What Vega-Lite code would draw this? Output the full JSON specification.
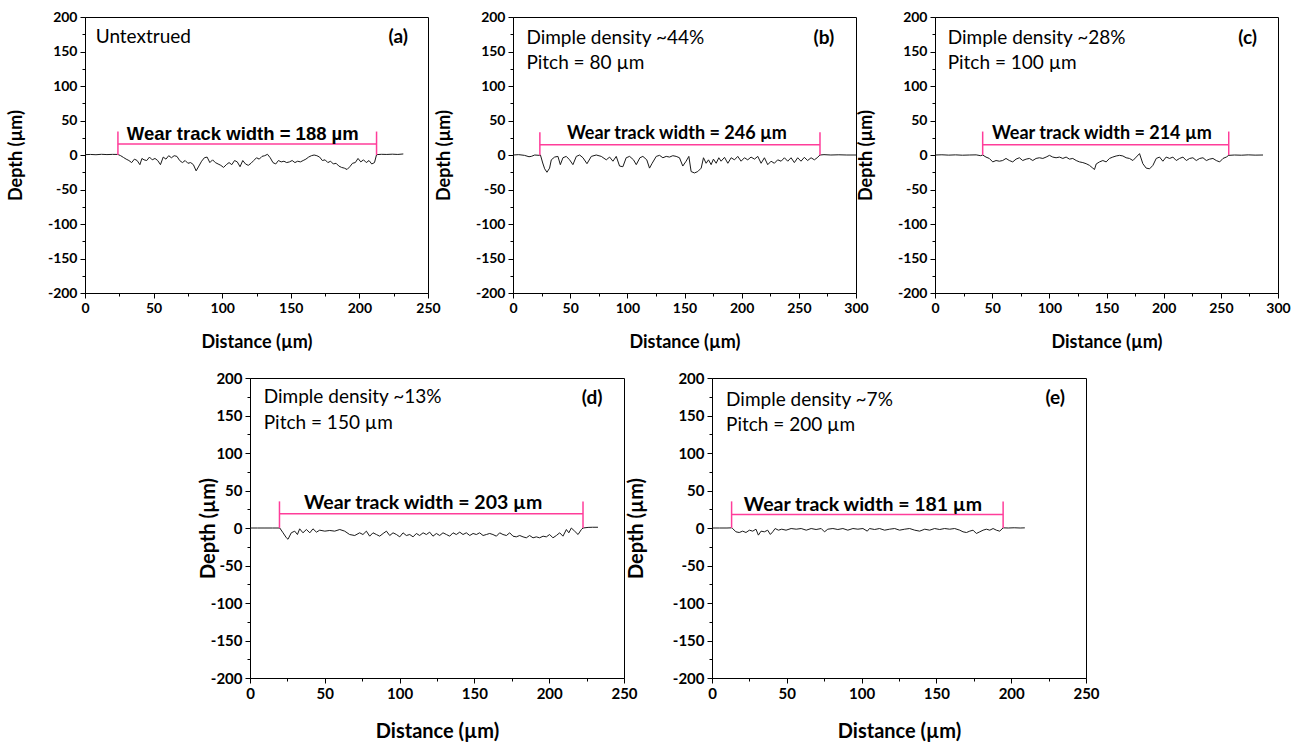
{
  "$schema": "https://vega.github.io/schema/vega-lite/v6.json",
  "padding": {"left": 6, "top": 9, "right": 5, "bottom": 5},
  "background": "white",
  "config": {
    "view": {"stroke": "#000", "strokeWidth": 1},
    "axis": {"domainColor": "#000", "domainWidth": 1, "tickColor": "#000", "tickWidth": 1, "labelColor": "#000", "titleColor": "#000", "labelFont": "Lato", "labelFontWeight": "bold", "labelFontSize": 14, "titleFont": "Lato", "titleFontWeight": "bold", "titleFontSize": 18, "grid": false, "labelPadding": 3, "labelOverlap": false, "labelFlush": false},
    "axisX": {"titlePadding": 18},
    "axisY": {"titlePadding": 22},
    "text": {"font": "Lato", "fontSize": 19, "color": "#000"}
  },
  "datasets": {
    "profile": [
      {"panel":"a","distance":0,"depth":0.5},{"panel":"a","distance":4,"depth":0.8},{"panel":"a","distance":8,"depth":0.4},{"panel":"a","distance":12,"depth":1},{"panel":"a","distance":16,"depth":0.6},{"panel":"a","distance":20,"depth":0.9},{"panel":"a","distance":24,"depth":0.8},{"panel":"a","distance":26,"depth":-1},{"panel":"a","distance":28,"depth":-3.5},{"panel":"a","distance":30,"depth":-6},{"panel":"a","distance":32,"depth":-8},{"panel":"a","distance":34,"depth":-11},{"panel":"a","distance":36,"depth":-6},{"panel":"a","distance":38,"depth":-8},{"panel":"a","distance":40,"depth":-14},{"panel":"a","distance":41.5,"depth":-5},{"panel":"a","distance":43,"depth":-7},{"panel":"a","distance":45,"depth":-8},{"panel":"a","distance":47,"depth":-3},{"panel":"a","distance":49,"depth":-7},{"panel":"a","distance":51,"depth":-5},{"panel":"a","distance":53,"depth":-8},{"panel":"a","distance":55,"depth":-14},{"panel":"a","distance":57,"depth":-3},{"panel":"a","distance":59,"depth":-6},{"panel":"a","distance":61,"depth":-1},{"panel":"a","distance":63,"depth":-4},{"panel":"a","distance":65,"depth":-1},{"panel":"a","distance":67,"depth":-2},{"panel":"a","distance":69,"depth":-8},{"panel":"a","distance":71,"depth":-11},{"panel":"a","distance":73,"depth":-8},{"panel":"a","distance":75,"depth":-12},{"panel":"a","distance":77,"depth":-11},{"panel":"a","distance":79,"depth":-14},{"panel":"a","distance":81,"depth":-23},{"panel":"a","distance":83,"depth":-16},{"panel":"a","distance":85,"depth":-9},{"panel":"a","distance":87,"depth":-4},{"panel":"a","distance":89,"depth":-3},{"panel":"a","distance":91,"depth":-11},{"panel":"a","distance":93,"depth":-7},{"panel":"a","distance":95,"depth":-11},{"panel":"a","distance":97,"depth":-13},{"panel":"a","distance":99,"depth":-15},{"panel":"a","distance":101,"depth":-18},{"panel":"a","distance":103,"depth":-14},{"panel":"a","distance":105,"depth":-11},{"panel":"a","distance":107,"depth":-14},{"panel":"a","distance":109,"depth":-8},{"panel":"a","distance":111,"depth":-10},{"panel":"a","distance":113,"depth":-17},{"panel":"a","distance":115,"depth":-8},{"panel":"a","distance":117,"depth":-13},{"panel":"a","distance":119,"depth":-15},{"panel":"a","distance":121,"depth":-12},{"panel":"a","distance":123,"depth":-8},{"panel":"a","distance":125,"depth":-4},{"panel":"a","distance":127,"depth":-6},{"panel":"a","distance":129,"depth":-2},{"panel":"a","distance":131,"depth":-1},{"panel":"a","distance":133,"depth":1},{"panel":"a","distance":135,"depth":-4},{"panel":"a","distance":137,"depth":-11},{"panel":"a","distance":139,"depth":-13},{"panel":"a","distance":141,"depth":-8},{"panel":"a","distance":143,"depth":-10},{"panel":"a","distance":145,"depth":-9},{"panel":"a","distance":147,"depth":-11},{"panel":"a","distance":149,"depth":-10},{"panel":"a","distance":151,"depth":-8},{"panel":"a","distance":153,"depth":-11},{"panel":"a","distance":155,"depth":-9},{"panel":"a","distance":157,"depth":-10},{"panel":"a","distance":159,"depth":-8},{"panel":"a","distance":161,"depth":-6},{"panel":"a","distance":163,"depth":-3},{"panel":"a","distance":165,"depth":-1},{"panel":"a","distance":167,"depth":0},{"panel":"a","distance":169,"depth":-1},{"panel":"a","distance":171,"depth":-3},{"panel":"a","distance":173,"depth":-8},{"panel":"a","distance":175,"depth":-7},{"panel":"a","distance":177,"depth":-11},{"panel":"a","distance":179,"depth":-9},{"panel":"a","distance":181,"depth":-13},{"panel":"a","distance":183,"depth":-12},{"panel":"a","distance":185,"depth":-16},{"panel":"a","distance":187,"depth":-18},{"panel":"a","distance":189,"depth":-19},{"panel":"a","distance":191,"depth":-21},{"panel":"a","distance":193,"depth":-17},{"panel":"a","distance":195,"depth":-12},{"panel":"a","distance":197,"depth":-11},{"panel":"a","distance":199,"depth":-5},{"panel":"a","distance":201,"depth":-10},{"panel":"a","distance":203,"depth":-7},{"panel":"a","distance":205,"depth":-11},{"panel":"a","distance":207,"depth":-8},{"panel":"a","distance":209,"depth":-13},{"panel":"a","distance":211,"depth":-11},{"panel":"a","distance":212.5,"depth":0.5},{"panel":"a","distance":216,"depth":1},{"panel":"a","distance":220,"depth":0.8},{"panel":"a","distance":224,"depth":1.2},{"panel":"a","distance":228,"depth":0.8},{"panel":"a","distance":232,"depth":1.5},
      {"panel":"b","distance":0,"depth":0},{"panel":"b","distance":5,"depth":0.5},{"panel":"b","distance":10,"depth":-0.5},{"panel":"b","distance":14,"depth":-2.5},{"panel":"b","distance":16,"depth":-2},{"panel":"b","distance":19,"depth":0},{"panel":"b","distance":23,"depth":-0.5},{"panel":"b","distance":24,"depth":0},{"panel":"b","distance":26,"depth":-11.6},{"panel":"b","distance":27.7,"depth":-20},{"panel":"b","distance":29.7,"depth":-25},{"panel":"b","distance":32,"depth":-19},{"panel":"b","distance":33.5,"depth":-7},{"panel":"b","distance":36.4,"depth":-3},{"panel":"b","distance":39.3,"depth":-2},{"panel":"b","distance":41.4,"depth":-14},{"panel":"b","distance":43.7,"depth":-4},{"panel":"b","distance":46.6,"depth":-2},{"panel":"b","distance":49.5,"depth":-7},{"panel":"b","distance":52.4,"depth":-14},{"panel":"b","distance":55.4,"depth":-2},{"panel":"b","distance":58.3,"depth":0},{"panel":"b","distance":61.2,"depth":-4},{"panel":"b","distance":64.7,"depth":-12.6},{"panel":"b","distance":68.5,"depth":-2},{"panel":"b","distance":72.8,"depth":0},{"panel":"b","distance":77.2,"depth":-2},{"panel":"b","distance":81.6,"depth":-7},{"panel":"b","distance":84.5,"depth":-3},{"panel":"b","distance":87.4,"depth":-9},{"panel":"b","distance":90.3,"depth":-2},{"panel":"b","distance":93.2,"depth":-16},{"panel":"b","distance":96.1,"depth":-17},{"panel":"b","distance":99,"depth":-4},{"panel":"b","distance":102,"depth":-2},{"panel":"b","distance":105.4,"depth":-7},{"panel":"b","distance":107.8,"depth":-14},{"panel":"b","distance":111,"depth":-4},{"panel":"b","distance":113.6,"depth":-2},{"panel":"b","distance":117,"depth":-7},{"panel":"b","distance":119.4,"depth":-19},{"panel":"b","distance":121.7,"depth":-12},{"panel":"b","distance":125.3,"depth":-2},{"panel":"b","distance":128.2,"depth":-0.5},{"panel":"b","distance":131.1,"depth":-4},{"panel":"b","distance":134,"depth":-2},{"panel":"b","distance":136.9,"depth":-3},{"panel":"b","distance":139.8,"depth":-1},{"panel":"b","distance":142.7,"depth":-2},{"panel":"b","distance":145.6,"depth":-4},{"panel":"b","distance":148.5,"depth":-16},{"panel":"b","distance":151.4,"depth":-9},{"panel":"b","distance":153.8,"depth":-2},{"panel":"b","distance":155.8,"depth":-24},{"panel":"b","distance":158.7,"depth":-26},{"panel":"b","distance":161.6,"depth":-24},{"panel":"b","distance":164.6,"depth":-19},{"panel":"b","distance":166.6,"depth":-4},{"panel":"b","distance":168.9,"depth":-12},{"panel":"b","distance":171,"depth":-7},{"panel":"b","distance":173.3,"depth":-14},{"panel":"b","distance":175.3,"depth":-6},{"panel":"b","distance":177.7,"depth":-12},{"panel":"b","distance":180,"depth":-4},{"panel":"b","distance":182,"depth":-9},{"panel":"b","distance":185,"depth":-3.4},{"panel":"b","distance":187.9,"depth":-12},{"panel":"b","distance":190.8,"depth":-4},{"panel":"b","distance":193.7,"depth":-7},{"panel":"b","distance":196.6,"depth":-2},{"panel":"b","distance":199.5,"depth":-9},{"panel":"b","distance":202.4,"depth":-4},{"panel":"b","distance":205.3,"depth":-7},{"panel":"b","distance":208.2,"depth":-3},{"panel":"b","distance":211.2,"depth":-6},{"panel":"b","distance":214.1,"depth":-2},{"panel":"b","distance":217,"depth":-12},{"panel":"b","distance":219.9,"depth":-4},{"panel":"b","distance":222.8,"depth":-14},{"panel":"b","distance":225.7,"depth":-9},{"panel":"b","distance":228.6,"depth":-12},{"panel":"b","distance":231.5,"depth":-7},{"panel":"b","distance":234.5,"depth":-9},{"panel":"b","distance":237.4,"depth":-4},{"panel":"b","distance":240.3,"depth":-9},{"panel":"b","distance":243.2,"depth":-4},{"panel":"b","distance":246.1,"depth":-11},{"panel":"b","distance":249,"depth":-4},{"panel":"b","distance":251.9,"depth":-9},{"panel":"b","distance":254.8,"depth":-3.4},{"panel":"b","distance":257.7,"depth":-8},{"panel":"b","distance":260.7,"depth":-4},{"panel":"b","distance":263.6,"depth":-7},{"panel":"b","distance":266,"depth":-4},{"panel":"b","distance":268.5,"depth":0},{"panel":"b","distance":272,"depth":0.5},{"panel":"b","distance":278,"depth":0},{"panel":"b","distance":285,"depth":0.3},{"panel":"b","distance":292,"depth":0},{"panel":"b","distance":300,"depth":0},
      {"panel":"c","distance":0,"depth":0},{"panel":"c","distance":6,"depth":0.3},{"panel":"c","distance":12,"depth":-0.2},{"panel":"c","distance":18,"depth":0.2},{"panel":"c","distance":24,"depth":-0.3},{"panel":"c","distance":30,"depth":0},{"panel":"c","distance":36,"depth":0.2},{"panel":"c","distance":40,"depth":-1},{"panel":"c","distance":41.7,"depth":0},{"panel":"c","distance":44.6,"depth":-3},{"panel":"c","distance":47.5,"depth":-5},{"panel":"c","distance":50.5,"depth":-10},{"panel":"c","distance":53.4,"depth":-8},{"panel":"c","distance":56.3,"depth":-9},{"panel":"c","distance":59.2,"depth":-8},{"panel":"c","distance":62.1,"depth":-5},{"panel":"c","distance":65,"depth":-8},{"panel":"c","distance":68,"depth":-10},{"panel":"c","distance":70.9,"depth":-6},{"panel":"c","distance":73.8,"depth":-4},{"panel":"c","distance":76.7,"depth":-8},{"panel":"c","distance":79.7,"depth":-6},{"panel":"c","distance":82.6,"depth":-5},{"panel":"c","distance":85.5,"depth":-8},{"panel":"c","distance":88.4,"depth":-5},{"panel":"c","distance":91.3,"depth":-4},{"panel":"c","distance":94.3,"depth":-5},{"panel":"c","distance":97.2,"depth":-3},{"panel":"c","distance":100.1,"depth":-0.5},{"panel":"c","distance":103,"depth":-3},{"panel":"c","distance":105.9,"depth":-4},{"panel":"c","distance":108.9,"depth":-3},{"panel":"c","distance":111.8,"depth":-5},{"panel":"c","distance":114.7,"depth":-3},{"panel":"c","distance":117.6,"depth":-6},{"panel":"c","distance":120.5,"depth":-5},{"panel":"c","distance":123.5,"depth":-8},{"panel":"c","distance":126.4,"depth":-10},{"panel":"c","distance":129.3,"depth":-11},{"panel":"c","distance":132.2,"depth":-12.6},{"panel":"c","distance":135.1,"depth":-15},{"panel":"c","distance":138,"depth":-19},{"panel":"c","distance":139.5,"depth":-21},{"panel":"c","distance":141,"depth":-13},{"panel":"c","distance":143.9,"depth":-10},{"panel":"c","distance":146.8,"depth":-8},{"panel":"c","distance":149.7,"depth":-10},{"panel":"c","distance":152.6,"depth":-5},{"panel":"c","distance":155.5,"depth":-3},{"panel":"c","distance":158.5,"depth":-1.4},{"panel":"c","distance":161.4,"depth":-0.5},{"panel":"c","distance":164.3,"depth":-1.4},{"panel":"c","distance":167.2,"depth":-4},{"panel":"c","distance":170.1,"depth":-5},{"panel":"c","distance":173.1,"depth":-8},{"panel":"c","distance":176,"depth":-3},{"panel":"c","distance":178.9,"depth":2},{"panel":"c","distance":181.8,"depth":-12.6},{"panel":"c","distance":184.7,"depth":-19},{"panel":"c","distance":187.7,"depth":-20},{"panel":"c","distance":190.6,"depth":-15},{"panel":"c","distance":193.5,"depth":-5},{"panel":"c","distance":196.4,"depth":-3},{"panel":"c","distance":199.3,"depth":-9},{"panel":"c","distance":202.2,"depth":-3},{"panel":"c","distance":205.2,"depth":-5},{"panel":"c","distance":208.1,"depth":-3},{"panel":"c","distance":211,"depth":-8},{"panel":"c","distance":213.9,"depth":-5},{"panel":"c","distance":216.9,"depth":-3},{"panel":"c","distance":219.8,"depth":-8},{"panel":"c","distance":222.7,"depth":-5},{"panel":"c","distance":225.6,"depth":-4},{"panel":"c","distance":228.5,"depth":-8},{"panel":"c","distance":231.5,"depth":-5},{"panel":"c","distance":234.4,"depth":-4},{"panel":"c","distance":237.3,"depth":-8},{"panel":"c","distance":240.2,"depth":-6},{"panel":"c","distance":243.1,"depth":-5},{"panel":"c","distance":246,"depth":-8},{"panel":"c","distance":249,"depth":-10},{"panel":"c","distance":251.9,"depth":-5},{"panel":"c","distance":254.8,"depth":-3},{"panel":"c","distance":256.9,"depth":-0.5},{"panel":"c","distance":262,"depth":0},{"panel":"c","distance":268,"depth":-0.3},{"panel":"c","distance":274,"depth":0.2},{"panel":"c","distance":280,"depth":-0.2},{"panel":"c","distance":286.9,"depth":0},
      {"panel":"d","distance":0,"depth":0},{"panel":"d","distance":5,"depth":0},{"panel":"d","distance":10,"depth":0},{"panel":"d","distance":15,"depth":0},{"panel":"d","distance":19.9,"depth":0},{"panel":"d","distance":22.1,"depth":-6.4},{"panel":"d","distance":24.3,"depth":-13},{"panel":"d","distance":25.4,"depth":-15},{"panel":"d","distance":27.6,"depth":-6.4},{"panel":"d","distance":29.9,"depth":-4.2},{"panel":"d","distance":31.7,"depth":-8.7},{"panel":"d","distance":33.2,"depth":-1.1},{"panel":"d","distance":35.4,"depth":-6.4},{"panel":"d","distance":37.7,"depth":-2},{"panel":"d","distance":40,"depth":-6.4},{"panel":"d","distance":42.1,"depth":-1.1},{"panel":"d","distance":44.4,"depth":-5.5},{"panel":"d","distance":46.6,"depth":-2.9},{"panel":"d","distance":50,"depth":-4.2},{"panel":"d","distance":53.3,"depth":-3.3},{"panel":"d","distance":56.6,"depth":-4.2},{"panel":"d","distance":60,"depth":-2},{"panel":"d","distance":63.3,"depth":-4.2},{"panel":"d","distance":66.6,"depth":-8.7},{"panel":"d","distance":70,"depth":-10},{"panel":"d","distance":73.3,"depth":-6.4},{"panel":"d","distance":75.5,"depth":-8.7},{"panel":"d","distance":77.8,"depth":-4.2},{"panel":"d","distance":80,"depth":-10.9},{"panel":"d","distance":82.2,"depth":-6.4},{"panel":"d","distance":84.5,"depth":-8.7},{"panel":"d","distance":86.7,"depth":-10.9},{"panel":"d","distance":89,"depth":-7.3},{"panel":"d","distance":91.2,"depth":-4.2},{"panel":"d","distance":93.4,"depth":-10},{"panel":"d","distance":95.6,"depth":-6.4},{"panel":"d","distance":97.9,"depth":-8.7},{"panel":"d","distance":100.1,"depth":-11.8},{"panel":"d","distance":102.3,"depth":-6.4},{"panel":"d","distance":104.5,"depth":-10},{"panel":"d","distance":106.8,"depth":-8.7},{"panel":"d","distance":109,"depth":-11.8},{"panel":"d","distance":111.2,"depth":-7.3},{"panel":"d","distance":113.4,"depth":-10},{"panel":"d","distance":115.7,"depth":-6.4},{"panel":"d","distance":117.9,"depth":-8.7},{"panel":"d","distance":120.1,"depth":-5.5},{"panel":"d","distance":122.3,"depth":-10.9},{"panel":"d","distance":124.6,"depth":-7.3},{"panel":"d","distance":126.8,"depth":-10},{"panel":"d","distance":129,"depth":-6.4},{"panel":"d","distance":131.3,"depth":-8.7},{"panel":"d","distance":133.5,"depth":-10.9},{"panel":"d","distance":135.7,"depth":-6.4},{"panel":"d","distance":137.9,"depth":-8.7},{"panel":"d","distance":140.2,"depth":-5.5},{"panel":"d","distance":142.4,"depth":-8.7},{"panel":"d","distance":144.6,"depth":-6.4},{"panel":"d","distance":146.9,"depth":-10},{"panel":"d","distance":149.1,"depth":-7.3},{"panel":"d","distance":151.3,"depth":-8.7},{"panel":"d","distance":153.5,"depth":-6.4},{"panel":"d","distance":155.8,"depth":-10},{"panel":"d","distance":158,"depth":-8.7},{"panel":"d","distance":160.2,"depth":-7.3},{"panel":"d","distance":162.4,"depth":-8.7},{"panel":"d","distance":164.7,"depth":-10.9},{"panel":"d","distance":166.9,"depth":-6.4},{"panel":"d","distance":169.1,"depth":-8.7},{"panel":"d","distance":171.4,"depth":-10},{"panel":"d","distance":173.6,"depth":-6.4},{"panel":"d","distance":175.8,"depth":-10.9},{"panel":"d","distance":178,"depth":-11.8},{"panel":"d","distance":180.3,"depth":-10},{"panel":"d","distance":182.5,"depth":-11.8},{"panel":"d","distance":184.7,"depth":-13.1},{"panel":"d","distance":186.9,"depth":-10},{"panel":"d","distance":189.2,"depth":-13.1},{"panel":"d","distance":191.4,"depth":-11.8},{"panel":"d","distance":193.6,"depth":-13.1},{"panel":"d","distance":195.9,"depth":-10.9},{"panel":"d","distance":198.1,"depth":-11.8},{"panel":"d","distance":200.3,"depth":-8.7},{"panel":"d","distance":202.5,"depth":-13.1},{"panel":"d","distance":204.8,"depth":-10},{"panel":"d","distance":207,"depth":-6.4},{"panel":"d","distance":209.2,"depth":-10.9},{"panel":"d","distance":211.5,"depth":-2},{"panel":"d","distance":213.1,"depth":-6.4},{"panel":"d","distance":214.8,"depth":0},{"panel":"d","distance":217,"depth":-4.2},{"panel":"d","distance":219.3,"depth":-8.7},{"panel":"d","distance":221.5,"depth":-2},{"panel":"d","distance":222.6,"depth":0},{"panel":"d","distance":226,"depth":0.8},{"panel":"d","distance":229,"depth":1},{"panel":"d","distance":232.6,"depth":1},
      {"panel":"e","distance":0,"depth":0},{"panel":"e","distance":5,"depth":0},{"panel":"e","distance":10,"depth":0},{"panel":"e","distance":13.1,"depth":0.2},{"panel":"e","distance":13.8,"depth":-0.7},{"panel":"e","distance":16,"depth":-5.1},{"panel":"e","distance":18.2,"depth":-6},{"panel":"e","distance":20.5,"depth":-4.2},{"panel":"e","distance":22.7,"depth":-6},{"panel":"e","distance":25,"depth":-2.9},{"panel":"e","distance":27.2,"depth":-4.2},{"panel":"e","distance":29.4,"depth":-1.6},{"panel":"e","distance":31,"depth":-9.5},{"panel":"e","distance":32.8,"depth":-4.2},{"panel":"e","distance":35,"depth":-5.1},{"panel":"e","distance":37.2,"depth":-2.9},{"panel":"e","distance":39,"depth":-8.6},{"panel":"e","distance":40.6,"depth":-5.1},{"panel":"e","distance":42.2,"depth":-0.7},{"panel":"e","distance":44.4,"depth":-2.9},{"panel":"e","distance":46.6,"depth":-1.6},{"panel":"e","distance":49.5,"depth":-2.9},{"panel":"e","distance":52.9,"depth":-0.7},{"panel":"e","distance":56.3,"depth":-1.6},{"panel":"e","distance":59.6,"depth":-0.7},{"panel":"e","distance":63,"depth":-2.9},{"panel":"e","distance":66.3,"depth":-0.7},{"panel":"e","distance":69.6,"depth":-2},{"panel":"e","distance":73,"depth":-0.7},{"panel":"e","distance":75.2,"depth":-5.1},{"panel":"e","distance":77.4,"depth":-1.6},{"panel":"e","distance":80.8,"depth":-0.7},{"panel":"e","distance":84.1,"depth":-2},{"panel":"e","distance":87.5,"depth":-0.7},{"panel":"e","distance":90.8,"depth":-2.9},{"panel":"e","distance":94.2,"depth":-0.7},{"panel":"e","distance":97.5,"depth":-1.6},{"panel":"e","distance":100.9,"depth":-0.7},{"panel":"e","distance":103.8,"depth":-4.2},{"panel":"e","distance":105.3,"depth":-0.7},{"panel":"e","distance":108.7,"depth":-2},{"panel":"e","distance":112,"depth":-0.7},{"panel":"e","distance":115.4,"depth":-2.9},{"panel":"e","distance":118.7,"depth":-1.6},{"panel":"e","distance":122.1,"depth":-0.7},{"panel":"e","distance":125.4,"depth":-2.9},{"panel":"e","distance":128.8,"depth":-1.6},{"panel":"e","distance":132.1,"depth":-0.7},{"panel":"e","distance":135.5,"depth":-2.9},{"panel":"e","distance":138.8,"depth":-4.2},{"panel":"e","distance":142.2,"depth":-1.6},{"panel":"e","distance":145.5,"depth":-2.9},{"panel":"e","distance":148.8,"depth":-0.7},{"panel":"e","distance":152.2,"depth":-2},{"panel":"e","distance":155.5,"depth":-0.7},{"panel":"e","distance":158.9,"depth":-1.6},{"panel":"e","distance":162.2,"depth":-0.7},{"panel":"e","distance":165.6,"depth":-2.9},{"panel":"e","distance":167.8,"depth":-5.1},{"panel":"e","distance":170.1,"depth":-6},{"panel":"e","distance":172.3,"depth":-4.2},{"panel":"e","distance":174.5,"depth":-2.9},{"panel":"e","distance":176.7,"depth":-7.3},{"panel":"e","distance":179,"depth":-5.1},{"panel":"e","distance":181.2,"depth":-2.9},{"panel":"e","distance":183.4,"depth":-1.6},{"panel":"e","distance":185.7,"depth":-2.9},{"panel":"e","distance":187.9,"depth":-0.7},{"panel":"e","distance":190.1,"depth":-2.9},{"panel":"e","distance":192.3,"depth":-4.2},{"panel":"e","distance":194.6,"depth":0.2},{"panel":"e","distance":198,"depth":0},{"panel":"e","distance":202,"depth":0.3},{"panel":"e","distance":206,"depth":0},{"panel":"e","distance":209.1,"depth":0.2}
    ],
    "bracket": [
      {"panel":"a","start":24,"end":212.5,"level":16,"low":0,"high":34,"label_x":115,"label_y":30,"label":"Wear track width = 188 µm"},
      {"panel":"b","start":23.5,"end":268.5,"level":15,"low":-0.5,"high":33,"label_x":143.4,"label_y":30,"label":"Wear track width = 246 µm"},
      {"panel":"c","start":41.7,"end":256.9,"level":15,"low":0,"high":34,"label_x":146,"label_y":30,"label":"Wear track width = 214 µm"},
      {"panel":"d","start":19.7,"end":222.6,"level":19,"low":0,"high":35.5,"label_x":115.7,"label_y":33,"label":"Wear track width = 203 µm"},
      {"panel":"e","start":13.1,"end":194.6,"level":18,"low":0,"high":35.5,"label_x":100.9,"label_y":31.3,"label":"Wear track width = 181 µm"}
    ],
    "notes": [
      {"panel":"a","kind":"note","x":7.8,"y":171,"text":"Untextrued"},
      {"panel":"a","kind":"tag","x":235.4,"y":171,"text":"(a)"},
      {"panel":"b","kind":"note","x":11.7,"y":170,"text":"Dimple density ~44%"},
      {"panel":"b","kind":"note","x":11.7,"y":133,"text":"Pitch = 80 µm"},
      {"panel":"b","kind":"tag","x":281,"y":170,"text":"(b)"},
      {"panel":"c","kind":"note","x":11.1,"y":170,"text":"Dimple density ~28%"},
      {"panel":"c","kind":"note","x":11.1,"y":133,"text":"Pitch = 100 µm"},
      {"panel":"c","kind":"tag","x":281.6,"y":170,"text":"(c)"},
      {"panel":"d","kind":"note","x":9.2,"y":174.7,"text":"Dimple density ~13%"},
      {"panel":"d","kind":"note","x":9.2,"y":140,"text":"Pitch = 150 µm"},
      {"panel":"d","kind":"tag","x":235.6,"y":173,"text":"(d)"},
      {"panel":"e","kind":"note","x":9.4,"y":171,"text":"Dimple density ~7%"},
      {"panel":"e","kind":"note","x":9.4,"y":137,"text":"Pitch = 200 µm"},
      {"panel":"e","kind":"tag","x":236,"y":174,"text":"(e)"}
    ]
  },
  "bounds": "flush",
  "spacing": 361,
  "vconcat": [
    {
      "bounds": "flush",
      "spacing": 85,
      "hconcat": [
        {
          "width": 343, "height": 276,
          "layer": [
            {"data": {"name": "profile"}, "transform": [{"filter": "datum.panel === 'a'"}],
             "mark": {"type": "line", "color": "#1a1a1a", "strokeWidth": 1},
             "encoding": {
               "x": {"field": "distance", "type": "quantitative", "title": "Distance (µm)", "scale": {"domain": [0, 250], "nice": false, "zero": false},
                     "axis": {"values": [0,25,50,75,100,125,150,175,200,225,250], "tickCount": 40, "labelOverlap": false, "labelExpr": "datum.value % 50 === 0 ? '' + datum.value : ''", "labelFontSize": {"condition": {"test": "datum.value % 50 !== 0", "value": 0}, "value": 14}, "tickSize": {"condition": {"test": "datum.value % 50 === 0", "value": 5}, "value": 3}}},
               "y": {"field": "depth", "type": "quantitative", "title": "Depth (µm)", "scale": {"domain": [-200, 200], "nice": false},
                     "axis": {"values": [-200,-175,-150,-125,-100,-75,-50,-25,0,25,50,75,100,125,150,175,200], "tickCount": 40, "labelOverlap": false, "labelExpr": "datum.value % 50 === 0 ? '' + datum.value : ''", "labelFontSize": {"condition": {"test": "datum.value % 50 !== 0", "value": 0}, "value": 14}, "tickSize": {"condition": {"test": "datum.value % 50 === 0", "value": 5}, "value": 3}}}
             }},
            {"data": {"name": "bracket"}, "transform": [{"filter": "datum.panel === 'a'"}],
             "mark": {"type": "rule", "color": "#ff3d9a", "strokeWidth": 1.5},
             "encoding": {"x": {"field": "start", "type": "quantitative"}, "x2": {"field": "end"}, "y": {"field": "level", "type": "quantitative"}}},
            {"data": {"name": "bracket"}, "transform": [{"filter": "datum.panel === 'a'"}],
             "mark": {"type": "rule", "color": "#ff3d9a", "strokeWidth": 1.5},
             "encoding": {"x": {"field": "start", "type": "quantitative"}, "y": {"field": "low", "type": "quantitative"}, "y2": {"field": "high"}}},
            {"data": {"name": "bracket"}, "transform": [{"filter": "datum.panel === 'a'"}],
             "mark": {"type": "rule", "color": "#ff3d9a", "strokeWidth": 1.5},
             "encoding": {"x": {"field": "end", "type": "quantitative"}, "y": {"field": "low", "type": "quantitative"}, "y2": {"field": "high"}}},
            {"data": {"name": "bracket"}, "transform": [{"filter": "datum.panel === 'a'"}],
             "mark": {"type": "text", "font": "Liberation Sans", "fontWeight": "bold", "fontSize": 18.5, "align": "center", "baseline": "middle"},
             "encoding": {"x": {"field": "label_x", "type": "quantitative"}, "y": {"field": "label_y", "type": "quantitative"}, "text": {"field": "label"}}},
            {"data": {"name": "notes"}, "transform": [{"filter": "datum.panel === 'a' && datum.kind === 'note'"}],
             "mark": {"type": "text", "align": "left", "baseline": "middle"},
             "encoding": {"x": {"field": "x", "type": "quantitative"}, "y": {"field": "y", "type": "quantitative"}, "text": {"field": "text"}}},
            {"data": {"name": "notes"}, "transform": [{"filter": "datum.panel === 'a' && datum.kind === 'tag'"}],
             "mark": {"type": "text", "align": "right", "baseline": "middle", "fontWeight": "bold"},
             "encoding": {"x": {"field": "x", "type": "quantitative"}, "y": {"field": "y", "type": "quantitative"}, "text": {"field": "text"}}}
          ]
        },
        {
          "bounds": "flush",
          "spacing": 79,
          "hconcat": [
            {
              "width": 343, "height": 276,
              "layer": [
                {"data": {"name": "profile"}, "transform": [{"filter": "datum.panel === 'b'"}],
                 "mark": {"type": "line", "color": "#1a1a1a", "strokeWidth": 1},
                 "encoding": {
                   "x": {"field": "distance", "type": "quantitative", "title": "Distance (µm)", "scale": {"domain": [0, 300], "nice": false, "zero": false},
                         "axis": {"values": [0,25,50,75,100,125,150,175,200,225,250,275,300], "tickCount": 40, "labelOverlap": false, "labelExpr": "datum.value % 50 === 0 ? '' + datum.value : ''", "labelFontSize": {"condition": {"test": "datum.value % 50 !== 0", "value": 0}, "value": 14}, "tickSize": {"condition": {"test": "datum.value % 50 === 0", "value": 5}, "value": 3}}},
                   "y": {"field": "depth", "type": "quantitative", "title": "Depth (µm)", "scale": {"domain": [-200, 200], "nice": false},
                         "axis": {"values": [-200,-175,-150,-125,-100,-75,-50,-25,0,25,50,75,100,125,150,175,200], "tickCount": 40, "labelOverlap": false, "labelExpr": "datum.value % 50 === 0 ? '' + datum.value : ''", "labelFontSize": {"condition": {"test": "datum.value % 50 !== 0", "value": 0}, "value": 14}, "tickSize": {"condition": {"test": "datum.value % 50 === 0", "value": 5}, "value": 3}}}
                 }},
                {"data": {"name": "bracket"}, "transform": [{"filter": "datum.panel === 'b'"}],
                 "mark": {"type": "rule", "color": "#ff3d9a", "strokeWidth": 1.5},
                 "encoding": {"x": {"field": "start", "type": "quantitative"}, "x2": {"field": "end"}, "y": {"field": "level", "type": "quantitative"}}},
                {"data": {"name": "bracket"}, "transform": [{"filter": "datum.panel === 'b'"}],
                 "mark": {"type": "rule", "color": "#ff3d9a", "strokeWidth": 1.5},
                 "encoding": {"x": {"field": "start", "type": "quantitative"}, "y": {"field": "low", "type": "quantitative"}, "y2": {"field": "high"}}},
                {"data": {"name": "bracket"}, "transform": [{"filter": "datum.panel === 'b'"}],
                 "mark": {"type": "rule", "color": "#ff3d9a", "strokeWidth": 1.5},
                 "encoding": {"x": {"field": "end", "type": "quantitative"}, "y": {"field": "low", "type": "quantitative"}, "y2": {"field": "high"}}},
                {"data": {"name": "bracket"}, "transform": [{"filter": "datum.panel === 'b'"}],
                 "mark": {"type": "text", "fontWeight": "bold", "fontSize": 18, "align": "center", "baseline": "middle"},
                 "encoding": {"x": {"field": "label_x", "type": "quantitative"}, "y": {"field": "label_y", "type": "quantitative"}, "text": {"field": "label"}}},
                {"data": {"name": "notes"}, "transform": [{"filter": "datum.panel === 'b' && datum.kind === 'note'"}],
                 "mark": {"type": "text", "align": "left", "baseline": "middle"},
                 "encoding": {"x": {"field": "x", "type": "quantitative"}, "y": {"field": "y", "type": "quantitative"}, "text": {"field": "text"}}},
                {"data": {"name": "notes"}, "transform": [{"filter": "datum.panel === 'b' && datum.kind === 'tag'"}],
                 "mark": {"type": "text", "align": "right", "baseline": "middle", "fontWeight": "bold"},
                 "encoding": {"x": {"field": "x", "type": "quantitative"}, "y": {"field": "y", "type": "quantitative"}, "text": {"field": "text"}}}
              ]
            },
            {
              "width": 343, "height": 276,
              "layer": [
                {"data": {"name": "profile"}, "transform": [{"filter": "datum.panel === 'c'"}],
                 "mark": {"type": "line", "color": "#1a1a1a", "strokeWidth": 1},
                 "encoding": {
                   "x": {"field": "distance", "type": "quantitative", "title": "Distance (µm)", "scale": {"domain": [0, 300], "nice": false, "zero": false},
                         "axis": {"values": [0,25,50,75,100,125,150,175,200,225,250,275,300], "tickCount": 40, "labelOverlap": false, "labelExpr": "datum.value % 50 === 0 ? '' + datum.value : ''", "labelFontSize": {"condition": {"test": "datum.value % 50 !== 0", "value": 0}, "value": 14}, "tickSize": {"condition": {"test": "datum.value % 50 === 0", "value": 5}, "value": 3}}},
                   "y": {"field": "depth", "type": "quantitative", "title": "Depth (µm)", "scale": {"domain": [-200, 200], "nice": false},
                         "axis": {"values": [-200,-175,-150,-125,-100,-75,-50,-25,0,25,50,75,100,125,150,175,200], "tickCount": 40, "labelOverlap": false, "labelExpr": "datum.value % 50 === 0 ? '' + datum.value : ''", "labelFontSize": {"condition": {"test": "datum.value % 50 !== 0", "value": 0}, "value": 14}, "tickSize": {"condition": {"test": "datum.value % 50 === 0", "value": 5}, "value": 3}}}
                 }},
                {"data": {"name": "bracket"}, "transform": [{"filter": "datum.panel === 'c'"}],
                 "mark": {"type": "rule", "color": "#ff3d9a", "strokeWidth": 1.5},
                 "encoding": {"x": {"field": "start", "type": "quantitative"}, "x2": {"field": "end"}, "y": {"field": "level", "type": "quantitative"}}},
                {"data": {"name": "bracket"}, "transform": [{"filter": "datum.panel === 'c'"}],
                 "mark": {"type": "rule", "color": "#ff3d9a", "strokeWidth": 1.5},
                 "encoding": {"x": {"field": "start", "type": "quantitative"}, "y": {"field": "low", "type": "quantitative"}, "y2": {"field": "high"}}},
                {"data": {"name": "bracket"}, "transform": [{"filter": "datum.panel === 'c'"}],
                 "mark": {"type": "rule", "color": "#ff3d9a", "strokeWidth": 1.5},
                 "encoding": {"x": {"field": "end", "type": "quantitative"}, "y": {"field": "low", "type": "quantitative"}, "y2": {"field": "high"}}},
                {"data": {"name": "bracket"}, "transform": [{"filter": "datum.panel === 'c'"}],
                 "mark": {"type": "text", "fontWeight": "bold", "fontSize": 18, "align": "center", "baseline": "middle"},
                 "encoding": {"x": {"field": "label_x", "type": "quantitative"}, "y": {"field": "label_y", "type": "quantitative"}, "text": {"field": "label"}}},
                {"data": {"name": "notes"}, "transform": [{"filter": "datum.panel === 'c' && datum.kind === 'note'"}],
                 "mark": {"type": "text", "align": "left", "baseline": "middle"},
                 "encoding": {"x": {"field": "x", "type": "quantitative"}, "y": {"field": "y", "type": "quantitative"}, "text": {"field": "text"}}},
                {"data": {"name": "notes"}, "transform": [{"filter": "datum.panel === 'c' && datum.kind === 'tag'"}],
                 "mark": {"type": "text", "align": "right", "baseline": "middle", "fontWeight": "bold"},
                 "encoding": {"x": {"field": "x", "type": "quantitative"}, "y": {"field": "y", "type": "quantitative"}, "text": {"field": "text"}}}
              ]
            }
          ]
        }
      ]
    },
    {
      "bounds": "flush",
      "spacing": 88,
      "hconcat": [
        {
          "width": 77, "height": 300,
          "data": {"values": []},
          "mark": {"type": "point", "opacity": 0},
          "view": {"stroke": null}
        },
        {
          "width": 374, "height": 300,
          "layer": [
            {"data": {"name": "profile"}, "transform": [{"filter": "datum.panel === 'd'"}],
             "mark": {"type": "line", "color": "#1a1a1a", "strokeWidth": 1},
             "encoding": {
               "x": {"field": "distance", "type": "quantitative", "title": "Distance (µm)", "scale": {"domain": [0, 250], "nice": false, "zero": false},
                     "axis": {"values": [0,25,50,75,100,125,150,175,200,225,250], "tickCount": 40, "labelOverlap": false, "labelExpr": "datum.value % 50 === 0 ? '' + datum.value : ''", "labelFontSize": {"condition": {"test": "datum.value % 50 !== 0", "value": 0}, "value": 15}, "tickSize": {"condition": {"test": "datum.value % 50 === 0", "value": 5}, "value": 3}, "titleFontSize": 20, "titlePadding": 20}},
               "y": {"field": "depth", "type": "quantitative", "title": "Depth (µm)", "scale": {"domain": [-200, 200], "nice": false},
                     "axis": {"values": [-200,-175,-150,-125,-100,-75,-50,-25,0,25,50,75,100,125,150,175,200], "tickCount": 40, "labelOverlap": false, "labelExpr": "datum.value % 50 === 0 ? '' + datum.value : ''", "labelFontSize": {"condition": {"test": "datum.value % 50 !== 0", "value": 0}, "value": 15}, "tickSize": {"condition": {"test": "datum.value % 50 === 0", "value": 5}, "value": 3}, "titleFontSize": 20, "titleX": -32}}
             }},
            {"data": {"name": "bracket"}, "transform": [{"filter": "datum.panel === 'd'"}],
             "mark": {"type": "rule", "color": "#ff3d9a", "strokeWidth": 1.5},
             "encoding": {"x": {"field": "start", "type": "quantitative"}, "x2": {"field": "end"}, "y": {"field": "level", "type": "quantitative"}}},
            {"data": {"name": "bracket"}, "transform": [{"filter": "datum.panel === 'd'"}],
             "mark": {"type": "rule", "color": "#ff3d9a", "strokeWidth": 1.5},
             "encoding": {"x": {"field": "start", "type": "quantitative"}, "y": {"field": "low", "type": "quantitative"}, "y2": {"field": "high"}}},
            {"data": {"name": "bracket"}, "transform": [{"filter": "datum.panel === 'd'"}],
             "mark": {"type": "rule", "color": "#ff3d9a", "strokeWidth": 1.5},
             "encoding": {"x": {"field": "end", "type": "quantitative"}, "y": {"field": "low", "type": "quantitative"}, "y2": {"field": "high"}}},
            {"data": {"name": "bracket"}, "transform": [{"filter": "datum.panel === 'd'"}],
             "mark": {"type": "text", "fontWeight": "bold", "fontSize": 19.5, "align": "center", "baseline": "middle"},
             "encoding": {"x": {"field": "label_x", "type": "quantitative"}, "y": {"field": "label_y", "type": "quantitative"}, "text": {"field": "label"}}},
            {"data": {"name": "notes"}, "transform": [{"filter": "datum.panel === 'd' && datum.kind === 'note'"}],
             "mark": {"type": "text", "align": "left", "baseline": "middle"},
             "encoding": {"x": {"field": "x", "type": "quantitative"}, "y": {"field": "y", "type": "quantitative"}, "text": {"field": "text"}}},
            {"data": {"name": "notes"}, "transform": [{"filter": "datum.panel === 'd' && datum.kind === 'tag'"}],
             "mark": {"type": "text", "align": "right", "baseline": "middle", "fontWeight": "bold"},
             "encoding": {"x": {"field": "x", "type": "quantitative"}, "y": {"field": "y", "type": "quantitative"}, "text": {"field": "text"}}}
          ]
        },
        {
          "width": 374, "height": 300,
          "layer": [
            {"data": {"name": "profile"}, "transform": [{"filter": "datum.panel === 'e'"}],
             "mark": {"type": "line", "color": "#1a1a1a", "strokeWidth": 1},
             "encoding": {
               "x": {"field": "distance", "type": "quantitative", "title": "Distance (µm)", "scale": {"domain": [0, 250], "nice": false, "zero": false},
                     "axis": {"values": [0,25,50,75,100,125,150,175,200,225,250], "tickCount": 40, "labelOverlap": false, "labelExpr": "datum.value % 50 === 0 ? '' + datum.value : ''", "labelFontSize": {"condition": {"test": "datum.value % 50 !== 0", "value": 0}, "value": 15}, "tickSize": {"condition": {"test": "datum.value % 50 === 0", "value": 5}, "value": 3}, "titleFontSize": 20, "titlePadding": 20}},
               "y": {"field": "depth", "type": "quantitative", "title": "Depth (µm)", "scale": {"domain": [-200, 200], "nice": false},
                     "axis": {"values": [-200,-175,-150,-125,-100,-75,-50,-25,0,25,50,75,100,125,150,175,200], "tickCount": 40, "labelOverlap": false, "labelExpr": "datum.value % 50 === 0 ? '' + datum.value : ''", "labelFontSize": {"condition": {"test": "datum.value % 50 !== 0", "value": 0}, "value": 15}, "tickSize": {"condition": {"test": "datum.value % 50 === 0", "value": 5}, "value": 3}, "titleFontSize": 20, "titlePadding": 26}}
             }},
            {"data": {"name": "bracket"}, "transform": [{"filter": "datum.panel === 'e'"}],
             "mark": {"type": "rule", "color": "#ff3d9a", "strokeWidth": 1.5},
             "encoding": {"x": {"field": "start", "type": "quantitative"}, "x2": {"field": "end"}, "y": {"field": "level", "type": "quantitative"}}},
            {"data": {"name": "bracket"}, "transform": [{"filter": "datum.panel === 'e'"}],
             "mark": {"type": "rule", "color": "#ff3d9a", "strokeWidth": 1.5},
             "encoding": {"x": {"field": "start", "type": "quantitative"}, "y": {"field": "low", "type": "quantitative"}, "y2": {"field": "high"}}},
            {"data": {"name": "bracket"}, "transform": [{"filter": "datum.panel === 'e'"}],
             "mark": {"type": "rule", "color": "#ff3d9a", "strokeWidth": 1.5},
             "encoding": {"x": {"field": "end", "type": "quantitative"}, "y": {"field": "low", "type": "quantitative"}, "y2": {"field": "high"}}},
            {"data": {"name": "bracket"}, "transform": [{"filter": "datum.panel === 'e'"}],
             "mark": {"type": "text", "fontWeight": "bold", "fontSize": 19.5, "align": "center", "baseline": "middle"},
             "encoding": {"x": {"field": "label_x", "type": "quantitative"}, "y": {"field": "label_y", "type": "quantitative"}, "text": {"field": "label"}}},
            {"data": {"name": "notes"}, "transform": [{"filter": "datum.panel === 'e' && datum.kind === 'note'"}],
             "mark": {"type": "text", "align": "left", "baseline": "middle"},
             "encoding": {"x": {"field": "x", "type": "quantitative"}, "y": {"field": "y", "type": "quantitative"}, "text": {"field": "text"}}},
            {"data": {"name": "notes"}, "transform": [{"filter": "datum.panel === 'e' && datum.kind === 'tag'"}],
             "mark": {"type": "text", "align": "right", "baseline": "middle", "fontWeight": "bold"},
             "encoding": {"x": {"field": "x", "type": "quantitative"}, "y": {"field": "y", "type": "quantitative"}, "text": {"field": "text"}}}
          ]
        }
      ]
    }
  ]
}
